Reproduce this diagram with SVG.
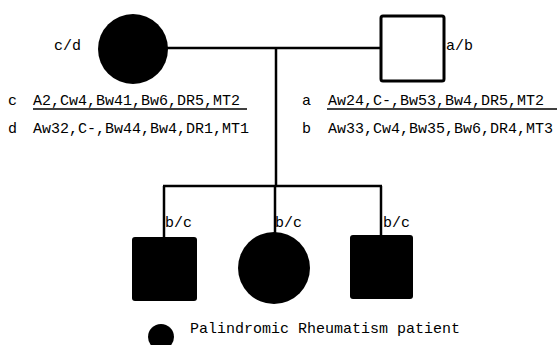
<svg xmlns="http://www.w3.org/2000/svg" width="558" height="345" viewBox="0 0 558 345">
<style>
text{font-family:"Liberation Mono","DejaVu Sans Mono",monospace;font-size:15px;fill:#000}
.ln{stroke:#000;stroke-width:2.5;fill:none}
.ul{stroke:#000;stroke-width:1.5}
</style>
<rect width="558" height="345" fill="#fff"/>
<g id="connectors">
<line class="ln" x1="166" y1="48" x2="381" y2="48"/>
<line class="ln" x1="276" y1="48" x2="276" y2="186"/>
<line class="ln" x1="163" y1="186" x2="382" y2="186"/>
<line class="ln" x1="164" y1="186" x2="164" y2="238"/>
<line class="ln" x1="275" y1="186" x2="275" y2="233"/>
<line class="ln" x1="381" y1="186" x2="381" y2="236"/>
</g>
<g id="mother">
<circle cx="133" cy="49" r="35" fill="#000"/>
<text x="54" y="50">c/d</text>
</g>
<g id="father">
<rect x="381" y="16" width="63" height="65" rx="2" fill="#fff" stroke="#000" stroke-width="3"/>
<text x="446" y="50">a/b</text>
</g>
<g id="mother-haplotypes">
<text x="8" y="105">c</text>
<text x="33" y="105">A2,Cw4,Bw41,Bw6,DR5,MT2</text>
<line class="ul" x1="33" y1="109" x2="247" y2="109"/>
<text x="8" y="133">d</text>
<text x="33" y="133">Aw32,C-,Bw44,Bw4,DR1,MT1</text>
</g>
<g id="father-haplotypes">
<text x="302" y="105">a</text>
<text x="328" y="105">Aw24,C-,Bw53,Bw4,DR5,MT2</text>
<line class="ul" x1="327" y1="109" x2="557" y2="109"/>
<text x="302" y="133">b</text>
<text x="328" y="133">Aw33,Cw4,Bw35,Bw6,DR4,MT3</text>
</g>
<g id="child1">
<rect x="132" y="237" width="65" height="64" rx="3" fill="#000"/>
<text x="165" y="227">b/c</text>
</g>
<g id="child2">
<circle cx="274" cy="268" r="36" fill="#000"/>
<text x="275" y="227">b/c</text>
</g>
<g id="child3">
<rect x="350" y="235" width="63" height="64" rx="3" fill="#000"/>
<text x="383" y="227">b/c</text>
</g>
<g id="legend">
<circle cx="161" cy="337" r="13" fill="#000"/>
<text x="190" y="333">Palindromic Rheumatism patient</text>
</g>
</svg>
